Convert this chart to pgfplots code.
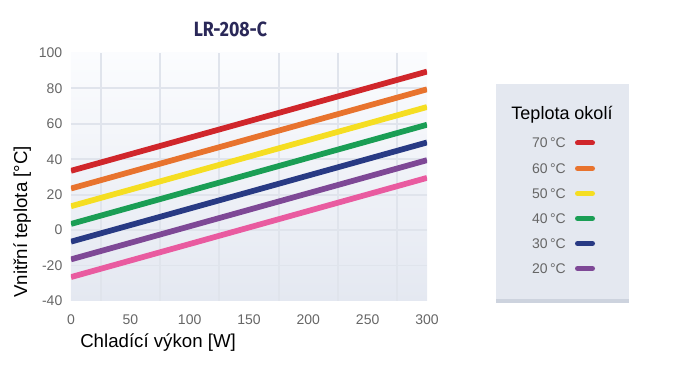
\documentclass[border=0pt]{standalone}
\usepackage{fontspec}
\setmainfont{Liberation Sans}
\newfontfamily\titlefont{Fira Sans}
\usepackage{pgfplots}
\pgfplotsset{compat=1.18}
\usepackage{graphicx}
\definecolor{cRed}{HTML}{D0262B}
\definecolor{cOrange}{HTML}{E8732E}
\definecolor{cYellow}{HTML}{F5DE22}
\definecolor{cGreen}{HTML}{1A9E55}
\definecolor{cBlue}{HTML}{283A84}
\definecolor{cPurple}{HTML}{7E4896}
\definecolor{cPink}{HTML}{E95BA0}
\definecolor{cTitle}{HTML}{2A2858}
\definecolor{cTick}{HTML}{666666}
\definecolor{cGrid}{HTML}{E0E4EC}
\definecolor{cBgTop}{HTML}{FBFCFE}
\definecolor{cBgBot}{HTML}{E4E8F1}
\definecolor{cLegend}{HTML}{E4E8F0}
\definecolor{cLegendEdge}{HTML}{CDD3DE}
\begin{document}
\begin{tikzpicture}
\path[use as bounding box] (0pt,0pt) rectangle (525pt,277.5pt);
\begin{axis}[
  at={(53.25pt,51.75pt)}, anchor=south west, scale only axis,
  width=267pt, height=186pt,
  xmin=0, xmax=300, ymin=-40, ymax=100,
  xtick={0,50,...,300}, ytick={-40,-20,...,100},
  minor xtick={25,75,...,275}, minor ytick={-20,0,...,80},
  xminorgrids=true, yminorgrids=true,
  minor grid style={draw=cGrid, line width=1.4pt},
  axis line style={draw=none},
  major tick length=0pt, minor tick length=0pt,
  tick label style={font=\fontsize{10.5}{12}\selectfont, text=cTick},
  xticklabel style={yshift=-7pt},
  yticklabel style={xshift=-3pt},
  /pgf/number format/assume math mode=true,
  axis background/.style={top color=cBgTop, bottom color=cBgBot},
  every axis plot/.append style={line width=4.3pt},
]
\addplot[cPink]   coordinates {(0,-26.5) (300,29.5)};
\addplot[cPurple] coordinates {(0,-16.5) (300,39.5)};
\addplot[cBlue]   coordinates {(0,-6.5) (300,49.5)};
\addplot[cGreen]  coordinates {(0,3.5) (300,59.5)};
\addplot[cYellow] coordinates {(0,13.5) (300,69.5)};
\addplot[cOrange] coordinates {(0,23.5) (300,79.5)};
\addplot[cRed]    coordinates {(0,33.5) (300,89.5)};
\end{axis}
\begin{scope}[x=0.75pt,y=0.75pt]
% title
\node[inner sep=0] at (230.5,341) {\color{cTitle}\resizebox{55pt}{11pt}{\titlefont\bfseries LR-208-C}};
% axis labels
\node[anchor=base west, inner sep=0, font=\fontsize{14}{16}\selectfont] at (80,22) {Chladící výkon [W]};
\node[rotate=90, anchor=north west, inner sep=0, font=\fontsize{14}{16}\selectfont] at (13,72) {Vnitřní teplota [°C]};
% legend
\fill[cLegend] (496,286) rectangle (629,67);
\fill[cLegendEdge] (496,71) rectangle (629,67);
\node[font=\fontsize{13.5}{16}\selectfont] at (562,255) {Teplota okolí};
\foreach \t/\c/\y in {70/cRed/227,60/cOrange/201.5,50/cYellow/176.5,40/cGreen/151.5,30/cBlue/126.5,20/cPurple/101.5}{
  \node[anchor=east, inner sep=0, text=cTick, font=\fontsize{10.5}{12}\selectfont] at (566,\y) {\t\,°C};
  \draw[\c, line width=3.75pt, line cap=round] (577.5,\y) -- (592.5,\y);
}
\end{scope}
\end{tikzpicture}
\end{document}
